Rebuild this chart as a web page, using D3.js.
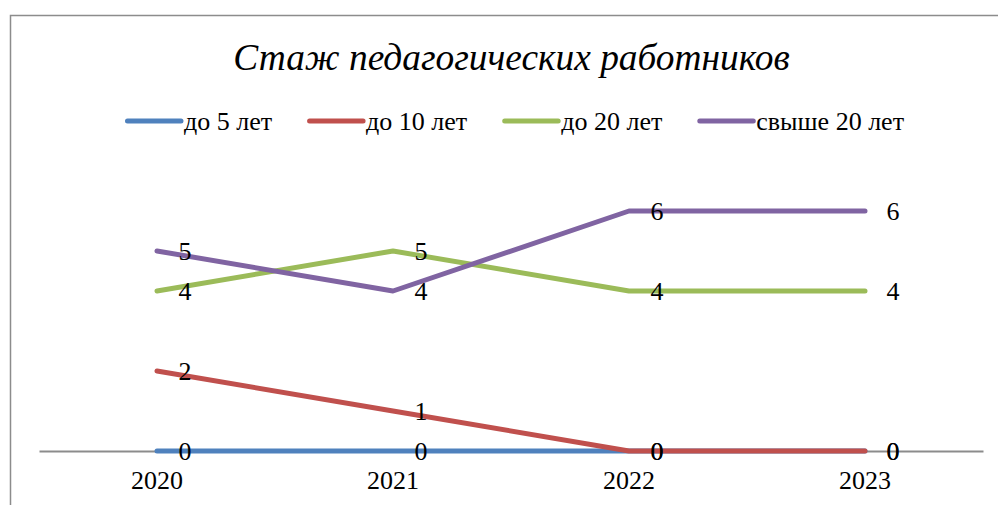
<!DOCTYPE html>
<html><head><meta charset="utf-8">
<script src="https://cdn.jsdelivr.net/npm/d3@7"></script>
<style>body{margin:0;background:#fff}svg{display:block}</style>
</head><body><svg id="c" width="998" height="505"></svg>
<script>
const categories = ["2020","2021","2022","2023"];
const seriesNames = ["до 5 лет","до 10 лет","до 20 лет","свыше 20 лет"];
const v5 = [0,0,0,0];
const v10 = [2,1,0,0];
const v20 = [4,5,4,4];
const vOver20 = [5,4,6,6];
const colors = ["#4f81bd","#c0504d","#9bbb59","#8064a2"];
const title = "Стаж педагогических работников";
const series = [v5,v10,v20,vOver20].map((vals,i)=>({name:seriesNames[i],values:vals,color:colors[i]}));

const svg = d3.select("#c");
const font = "Liberation Serif";

svg.append("path").attr("d","M10.5,505 L10.5,15.5 L998,15.5").attr("fill","none").attr("stroke","#8c8c8c").attr("stroke-width",1.5);

svg.append("text").attr("x",511.5).attr("y",70).attr("text-anchor","middle")
  .style("font-family",font).style("font-style","italic").style("font-size","37.4px").text(title);

const x = d3.scaleBand().domain(categories).range([39,983]);
const y = d3.scaleLinear().domain([0,6]).range([451,211]);

const ax = svg.append("g").attr("transform","translate(0,451)").call(d3.axisBottom(x).tickSize(0).tickPadding(20));
ax.attr("font-family",null);
ax.select(".domain").attr("stroke","#8c8c8c").attr("stroke-width",2);
ax.selectAll("text").style("font-family",font).style("font-size","26px").attr("fill","#000");

const line = d3.line().x((d,i)=>x(categories[i])+x.bandwidth()/2).y(d=>y(d));
svg.selectAll("path.s").data(series).join("path").attr("class","s")
  .attr("d",d=>line(d.values)).attr("fill","none").attr("stroke",d=>d.color)
  .attr("stroke-width",5).attr("stroke-linecap","round").attr("stroke-linejoin","round");

series.forEach(s=>{
  svg.append("g").selectAll("text").data(s.values).join("text")
    .attr("x",(d,i)=>x(categories[i])+x.bandwidth()/2+28)
    .attr("y",d=>y(d)).attr("dy","0.33em").attr("text-anchor","middle")
    .style("font-family",font).style("font-size","26px").text(d=>d);
});

const lg = svg.append("g");
let cx = 0;
series.forEach((s,i)=>{
  const g = lg.append("g").attr("transform",`translate(${cx},0)`);
  g.append("line").attr("x1",2.5).attr("x2",56).attr("y1",0).attr("y2",0).attr("stroke",s.color).attr("stroke-width",5).attr("stroke-linecap","round");
  const t = g.append("text").attr("x",59).attr("y",0).attr("dy","0.33em").style("font-family",font).style("font-size","26px").text(s.name);
  const w = t.node().getComputedTextLength();
  cx += 59 + w + 35;
});
const total = cx - 35;
lg.attr("transform",`translate(${514.5-total/2},121)`);
</script></body></html>
